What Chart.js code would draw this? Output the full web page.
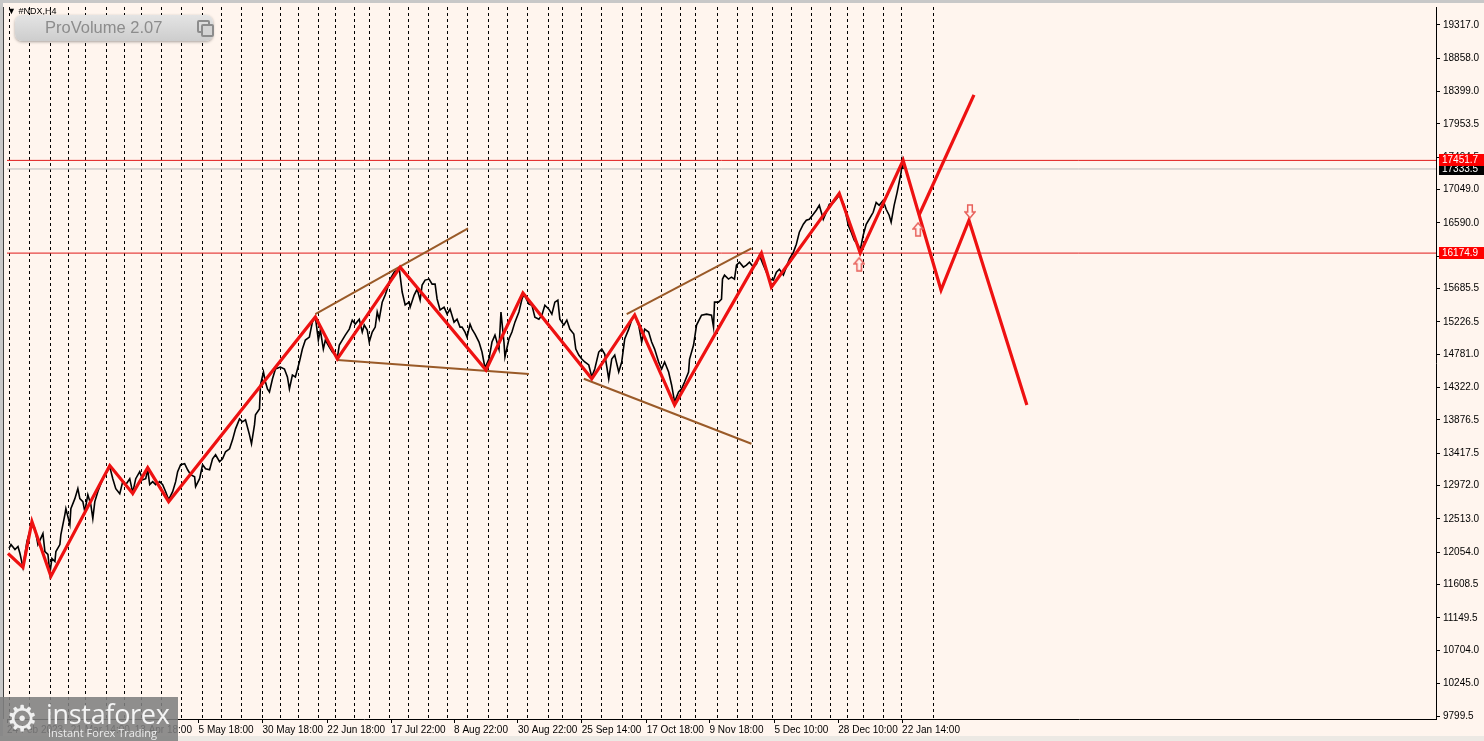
<!DOCTYPE html>
<html><head><meta charset="utf-8">
<script src="https://cdn.jsdelivr.net/npm/chart.js@4.4.1/dist/chart.umd.min.js"></script>
<style>
html,body{margin:0;padding:0;background:#fff5ee;overflow:hidden;}
#wrap{position:relative;width:1484px;height:741px;}
#c{position:absolute;left:0;top:0;}
#sym{position:absolute;left:7px;top:6px;font:9px "Liberation Sans",sans-serif;color:#000;white-space:nowrap;}
#pv{position:absolute;left:15px;top:15px;width:198px;height:26px;border-radius:7px;background:linear-gradient(#e4e4e4,#cdcdcd);box-shadow:0 1px 3px rgba(0,0,0,0.35);}
#pv span{position:absolute;left:30px;top:3px;font:16.5px "Liberation Sans",sans-serif;color:#8c8c8c;}
#pv i{position:absolute;left:182px;top:5px;width:9px;height:9px;border:2px solid #8c8c8c;border-radius:2px;}
#pv b{position:absolute;left:186px;top:9px;width:9px;height:9px;border:2px solid #8c8c8c;border-radius:2px;background:#d4d4d4;}
#logo{position:absolute;left:0;top:697px;width:178px;height:44px;background:rgba(128,128,128,0.88);}
#logo .t{position:absolute;left:46px;top:-2px;font:27px "Open Sans","Liberation Sans",sans-serif;color:#f4f4f4;letter-spacing:-0.3px;}
#logo .s{position:absolute;left:48px;top:28px;font:11px "Open Sans","Liberation Sans",sans-serif;color:#ececec;}
#logo .g{position:absolute;left:6px;top:2px;font:36px "DejaVu Sans",sans-serif;color:#f0f0f0;line-height:40px;}
</style></head>
<body>
<div id="wrap">
<canvas id="c" width="1484" height="741"></canvas>
<div id="sym">&#9660; #NDX,H4</div>
<div id="pv"><span>ProVolume 2.07</span><i></i><b></b></div>
<div id="logo"><div class="g">&#9881;</div><div class="t">instaforex</div><div class="s">Instant Forex Trading</div></div>
</div>
<script>
// ---- data ----
const tickBars = [0, 64, 128, 192, 256, 321, 385, 448, 512, 576, 641, 704, 769, 833, 897];
const tickLabels = ["24 Feb 2023", "21 Mar 14:00", "13 Apr 18:00", "5 May 18:00", "30 May 18:00", "22 Jun 18:00", "17 Jul 22:00", "8 Aug 22:00", "30 Aug 22:00", "25 Sep 14:00", "17 Oct 18:00", "9 Nov 18:00", "5 Dec 10:00", "28 Dec 10:00", "22 Jan 14:00"];
const separatorBars = [3,23,44,62,79,100,118,135,155,175,196,215,235,256,274,292,312,329,348,363,383,402,422,441,461,483,502,522,543,557,576,596,617,636,656,675,690,712,732,747,767,786,806,825,842,858,878,896,928];
const priceTicks = [19317.0,18858.0,18399.0,17953.5,17494.5,17049.0,16590.0,16131.5,15685.5,15226.5,14781.0,14322.0,13876.5,13417.5,12972.0,12513.0,12054.0,11608.5,11149.5,10704.0,10245.0,9799.5];

const priceBars = [2,4,8,11,13,16,20,25,28,31,36,38,41,43,45,48,49,53,54,58,59,63,64,68,71,73,76,78,81,84,86,88,91,96,99,103,106,109,113,116,119,123,126,129,133,136,139,141,143,146,149,153,156,159,162,166,169,171,174,178,181,184,188,189,193,196,199,203,206,209,213,216,219,223,226,229,233,236,239,243,245,248,249,253,254,257,259,261,263,266,269,274,278,281,283,286,289,293,296,299,303,306,309,312,314,317,319,323,326,329,331,333,336,339,343,346,349,353,356,358,361,363,366,369,371,373,376,379,381,384,388,391,393,396,399,403,404,408,411,414,416,419,423,426,429,431,434,438,441,444,448,451,454,456,459,461,464,466,469,473,476,479,483,486,489,493,495,498,499,503,506,509,513,516,518,523,526,529,533,536,539,543,546,549,552,554,558,561,564,568,570,573,576,579,583,586,589,593,596,599,603,606,609,613,616,619,623,626,629,633,636,639,643,646,649,653,656,659,663,666,669,673,676,679,683,684,688,691,696,701,706,708,709,713,716,717,719,723,726,729,731,734,738,741,744,748,751,754,758,761,764,768,771,774,778,781,784,788,791,794,798,801,804,808,811,814,818,821,824,828,831,834,839,843,846,849,853,855,858,861,864,868,871,874,878,881,884,886,889,892,894,896,897,898];
const priceValues = [12107,12161,12093,12134,12038,11846,12203,12450,12381,12161,12312,12065,12024,11763,11969,11928,12065,12161,12299,12574,12656,12436,12656,12793,12931,12793,12752,12615,12848,12711,12519,12752,12889,13068,13136,13232,13068,12931,12862,13027,12986,13068,12876,13068,13164,13054,13068,13191,12986,13027,12986,13027,12986,12889,12779,12889,13027,13164,13260,13274,13191,13123,13095,12958,13068,13260,13205,13191,13342,13397,13301,13342,13439,13480,13603,13754,13892,13851,13878,13672,13548,13809,13947,14029,14359,14537,14400,14304,14263,14441,14579,14606,14579,14469,14304,14496,14469,14675,14853,14977,15018,15224,15295,14977,15114,14853,14977,14881,14812,14771,14730,14908,14977,15046,15128,15252,15197,15265,15087,15183,15114,14950,15087,15156,15363,15265,15499,15597,15680,15817,15913,15941,15968,15639,15460,15499,15430,15597,15680,15529,15735,15803,15817,15748,15748,15543,15392,15430,15337,15405,15224,15265,15156,15156,15087,15018,15197,15128,15060,14950,14812,14593,14718,14950,15046,14853,15363,14950,14744,14991,15087,15224,15363,15540,15608,15471,15458,15293,15265,15320,15458,15403,15334,15499,15526,15265,15183,15252,15128,15060,14853,14771,14716,14675,14634,14470,14579,14812,14853,14785,14441,14716,14771,14538,14675,14991,15128,15252,15320,15183,14950,15128,15087,14950,14853,14675,14579,14675,14538,14359,14126,14263,14304,14400,14538,14716,14908,15183,15320,15334,15320,15156,15499,15499,15540,15817,15872,15817,15844,15817,16009,16050,15982,16009,16050,15982,16023,16146,16009,15913,15817,15803,15913,15954,15872,15982,16092,16186,16297,16462,16572,16627,16641,16710,16765,16833,16641,16737,16847,16872,16916,16971,16833,16559,16462,16353,16284,16215,16421,16572,16641,16737,16872,16833,16902,16778,16696,16600,16833,17012,17149,17287,17437,17333];

const zigzagBars = [1,16,25,44,103,126,141,162,309,331,394,480,517,586,629,669,756,766,834,855,898,936,964,1022];
const zigzagValues = [12038,11846,12477,11724,13249,12864,13219,12752,15295,14718,15982,14565,15624,14443,15323,14083,16175,15707,16998,16175,17452,15666,16627,14083];
const branchBars = [914, 969];
const branchValues = [16700, 18355];

const channelLines = [
  {bars:[309,462], values:[15334,16515]},
  {bars:[331,523], values:[14702,14510]},
  {bars:[621,746], values:[15334,16240]},
  {bars:[578,746], values:[14444,13549]}
];
const levelValues = [17451.7, 17333.5, 16174.9];
const levelColors = ['#e01818', '#b8b8b8', '#e01818'];
const upArrowBars = [854, 913];
const upArrowValues = [16021, 16501];
const downArrowBars = [965];
const downArrowValues = [16749];

// ---- helpers ----
const xyOf = (xs, ys) => xs.map((x, i) => ({x: x, y: ys[i]}));
function arrowImg(up){
  const c = document.createElement('canvas'); c.width = 12; c.height = 15;
  const g = c.getContext('2d');
  g.save();
  if(!up){ g.translate(0,15); g.scale(1,-1); }
  g.beginPath();
  g.moveTo(6,1); g.lineTo(11,7); g.lineTo(8.3,7); g.lineTo(8.3,14); g.lineTo(3.7,14); g.lineTo(3.7,7); g.lineTo(1,7); g.closePath();
  g.fillStyle = '#fff6f2'; g.fill();
  g.strokeStyle = '#e8605a'; g.lineWidth = 1.5; g.stroke();
  g.restore();
  return c;
}
const XMAX = 1432;
const YMIN = 9758.3, YMAX = 19564.2;

const datasets = [];
datasets.push({type:'scatter', data: xyOf(upArrowBars, upArrowValues), pointStyle: arrowImg(true), pointRadius: 6, order: 0});
datasets.push({type:'scatter', data: xyOf(downArrowBars, downArrowValues), pointStyle: arrowImg(false), pointRadius: 6, order: 0});
datasets.push({data: xyOf(zigzagBars, zigzagValues), borderColor:'#ee1111', borderWidth:3.2, pointRadius:0, order:1, borderJoinStyle:'miter'});
datasets.push({data: xyOf(branchBars, branchValues), borderColor:'#ee1111', borderWidth:3.2, pointRadius:0, order:1});
channelLines.forEach(l => datasets.push({data: xyOf(l.bars, l.values), borderColor:'#9a5a28', borderWidth:2, pointRadius:0, order:2}));
datasets.push({data: xyOf(priceBars, priceValues), borderColor:'#000000', borderWidth:1.6, pointRadius:0, order:3});
levelValues.forEach((v, i) => datasets.push({data:[{x:0,y:v},{x:XMAX,y:v}], borderColor: levelColors[i], borderWidth:1, pointRadius:0, order:4}));

const bgPlugin = {
  id:'bg',
  beforeDraw(chart){
    const ctx = chart.ctx;
    ctx.save();
    ctx.fillStyle = '#fff5ee';
    ctx.fillRect(0,0,chart.width,chart.height);
    ctx.fillStyle = '#c8c8c8';
    ctx.fillRect(0,0,chart.width,3);
    ctx.fillRect(0,0,3,chart.height);
    ctx.fillStyle = '#ece9e4';
    ctx.fillRect(0,736,chart.width,5);
    ctx.restore();
  },
  afterDraw(chart){
    const ctx = chart.ctx, ys = chart.scales.y, a = chart.chartArea;
    ctx.save();
    ctx.strokeStyle = '#404040'; ctx.lineWidth = 1;
    ctx.beginPath(); ctx.moveTo(3.5, a.top); ctx.lineTo(3.5, a.bottom); ctx.stroke();
    const boxes = [[1, '#000000'], [0, '#ff0000'], [2, '#ff0000']];
    ctx.font = '10px "Liberation Sans", sans-serif';
    ctx.textBaseline = 'middle';
    boxes.forEach(([i, col]) => {
      const py = Math.round(ys.getPixelForValue(levelValues[i]));
      ctx.fillStyle = col;
      ctx.fillRect(a.right + 3, py - 6, 48, 12);
      ctx.fillStyle = '#ffffff';
      ctx.fillText(levelValues[i].toFixed(1), a.right + 6, py + 0.5);
    });
    ctx.restore();
  }
};

const noPad = ax => { ax.paddingTop = 0; ax.paddingBottom = 0; ax.paddingLeft = 0; ax.paddingRight = 0; };

new Chart(document.getElementById('c'), {
  type: 'line',
  data: { datasets },
  plugins: [bgPlugin],
  options: {
    responsive:false, animation:false, devicePixelRatio:1,
    layout:{ padding:{ left:4, top:2, right:0, bottom:0 } },
    plugins:{ legend:{display:false}, tooltip:{enabled:false} },
    scales:{
      x:{
        type:'linear', position:'bottom', min:0, max:XMAX,
        afterBuildTicks: ax => { ax.ticks = tickBars.map(v => ({value:v})); },
        afterFit: ax => { ax.height = 22; noPad(ax); },
        ticks:{ autoSkip:false, maxRotation:0, minRotation:0, align:'start', padding:1,
          font:{ family:'Liberation Sans', size:10 }, color:'#000',
          callback:(v, i) => tickLabels[i] },
        grid:{ drawOnChartArea:false, drawTicks:true, tickLength:4, color:'#000' },
        border:{ display:true, color:'#000', width:1 }
      },
      x2:{
        type:'linear', position:'top', min:0, max:XMAX,
        afterBuildTicks: ax => { ax.ticks = separatorBars.map(v => ({value:v})); },
        afterFit: ax => { ax.height = 0; noPad(ax); },
        ticks:{ display:false },
        grid:{ drawOnChartArea:true, drawTicks:false, color:'#000', lineWidth:1 },
        border:{ display:false, dash:[3,3] }
      },
      y:{
        type:'linear', position:'right', min:YMIN, max:YMAX,
        afterBuildTicks: ax => { ax.ticks = priceTicks.map(v => ({value:v})); },
        afterFit: ax => { ax.width = 48; noPad(ax); },
        ticks:{ padding:3, font:{ family:'Liberation Sans', size:10 }, color:'#000', callback:v => v.toFixed(1) },
        grid:{ drawOnChartArea:false, drawTicks:true, tickLength:4, color:'#000' },
        border:{ display:true, color:'#000', width:1 }
      }
    }
  }
});
</script>
</body></html>
